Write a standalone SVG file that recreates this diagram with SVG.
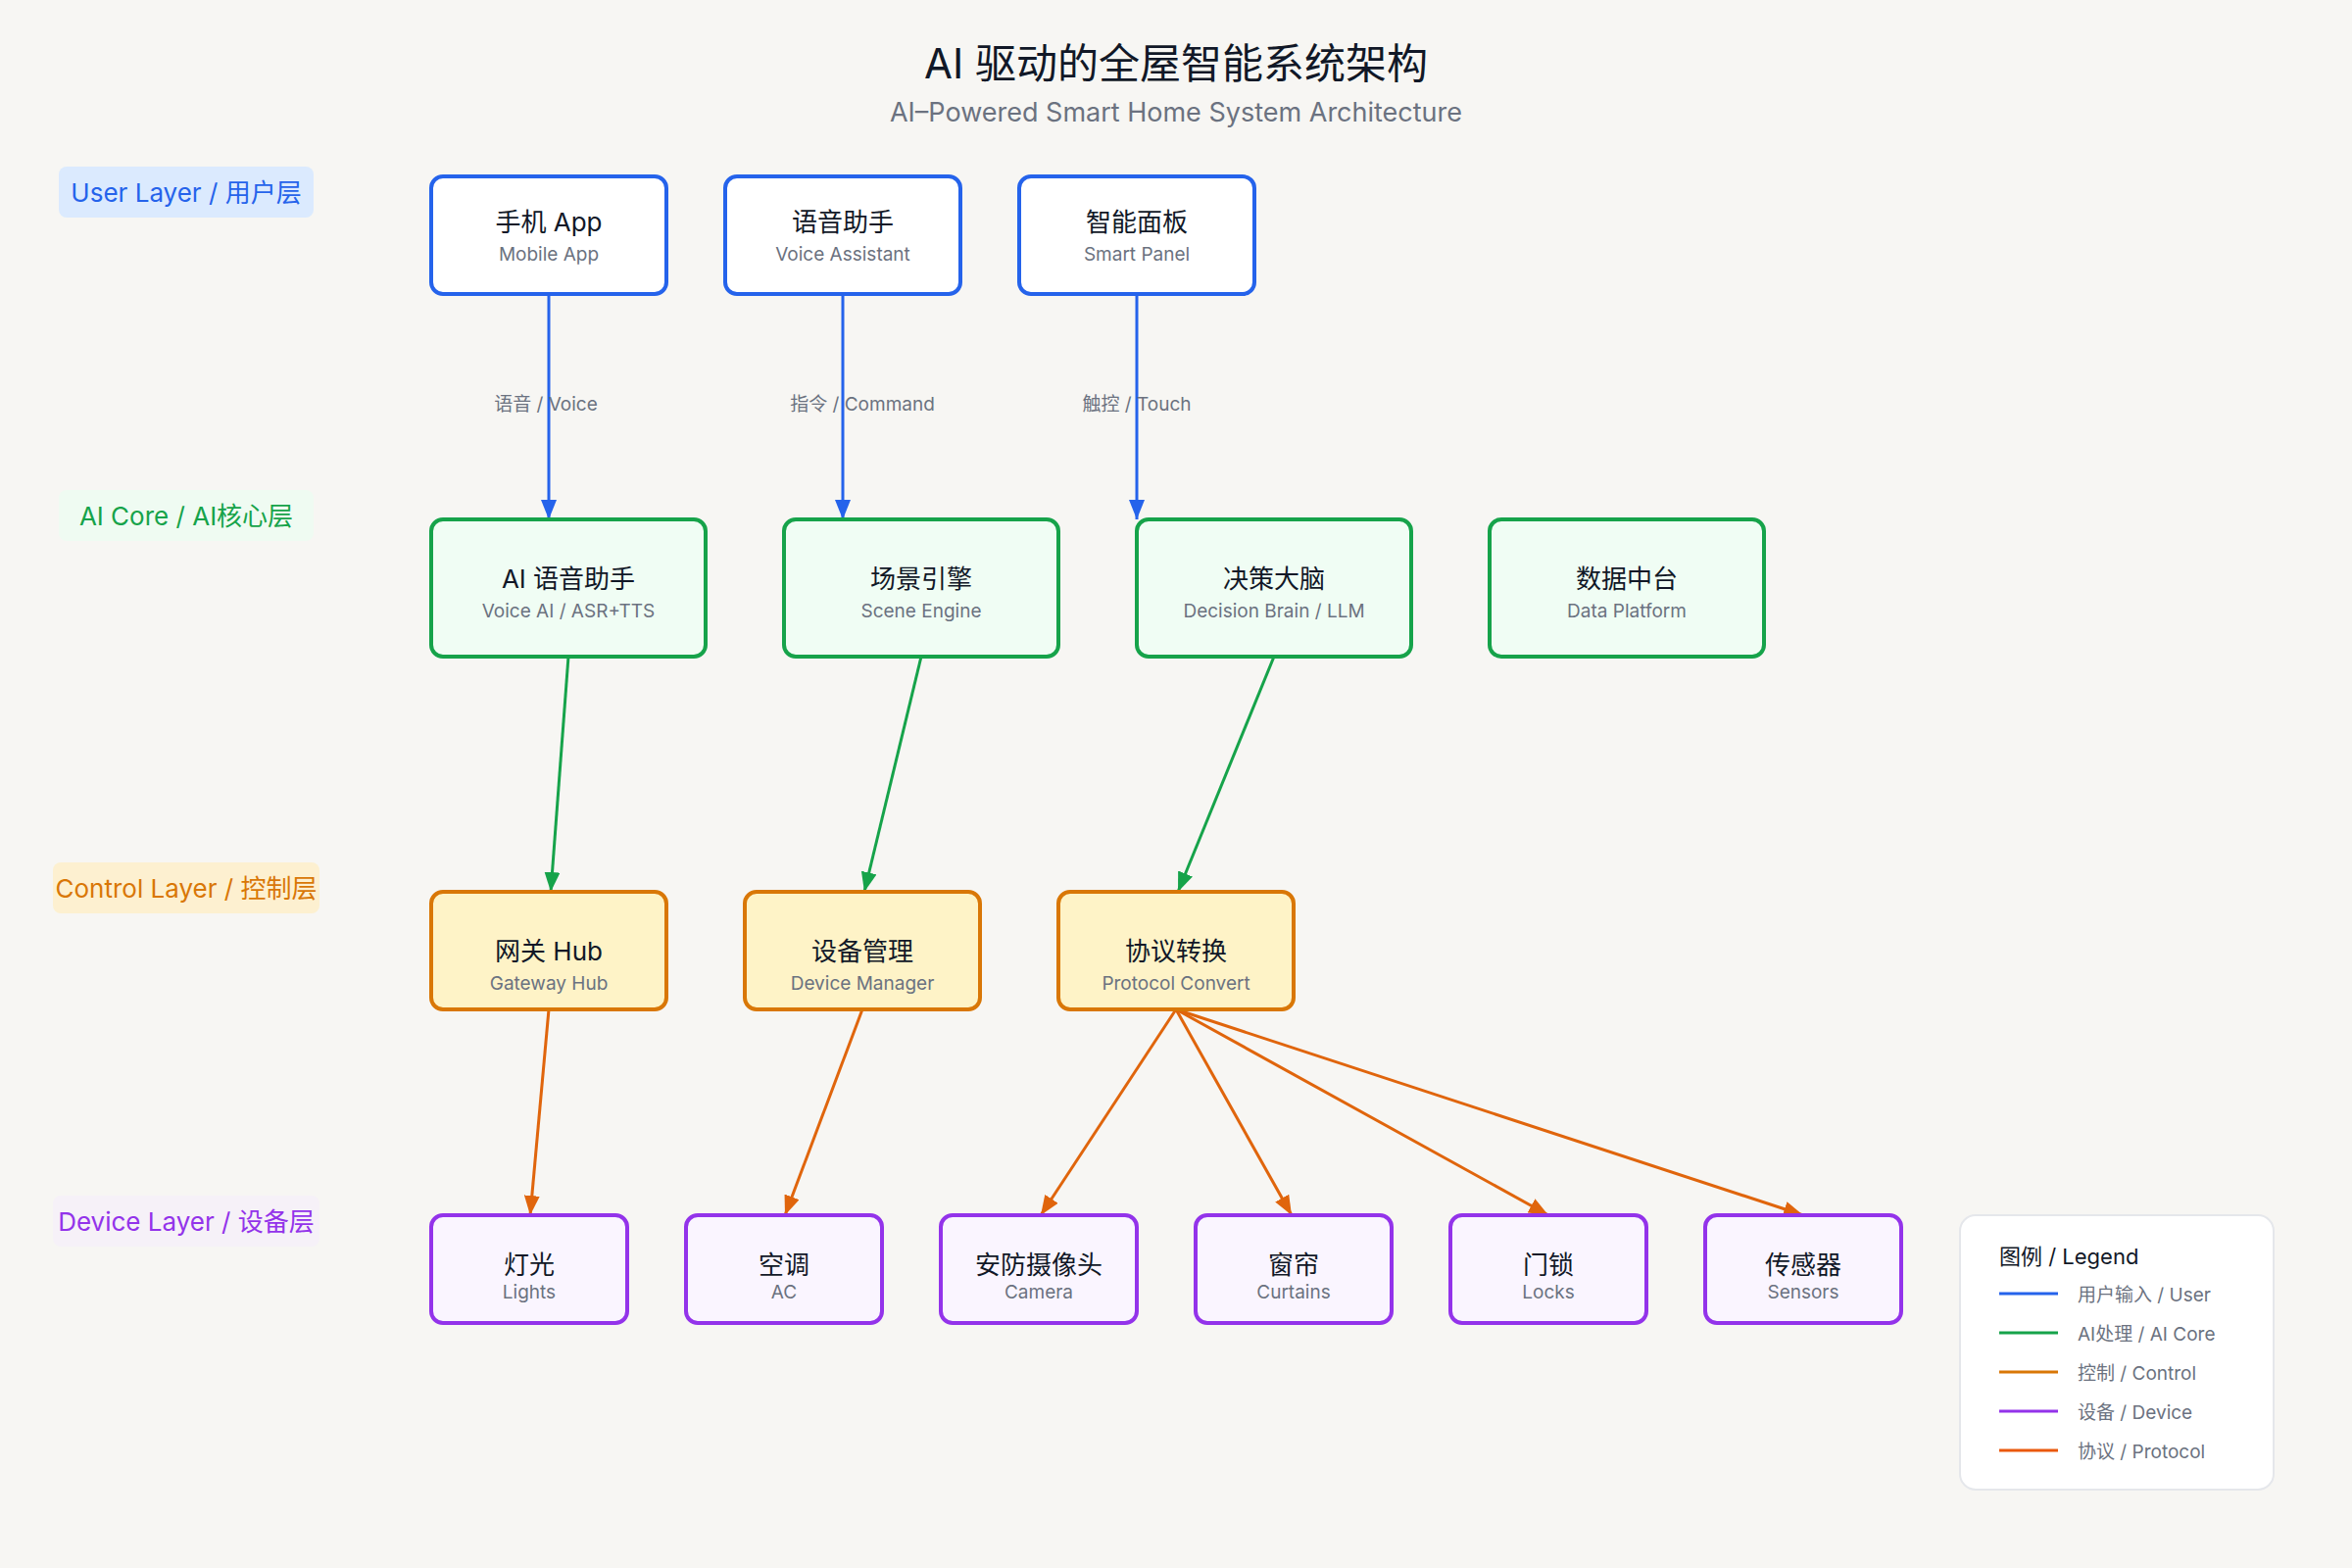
<svg xmlns="http://www.w3.org/2000/svg" width="2400" height="1600" viewBox="0 0 2400 1600">
<defs>
<style>
text{font-family:Inter,"Noto Sans CJK SC",sans-serif;text-anchor:middle;dominant-baseline:central}
.t{font-size:26px;fill:#111827}
.s{font-size:19px;fill:#6b7280}
.el{font-size:19px;fill:#6b7280}
.u{fill:#fff;stroke:#2563eb;stroke-width:4}
.a{fill:#f0fdf4;stroke:#16a34a;stroke-width:4}
.c{fill:#fef3c7;stroke:#d97706;stroke-width:4}
.d{fill:#faf5ff;stroke:#9333ea;stroke-width:4}
.eu{stroke:#2563eb;stroke-width:3;fill:none}
.ea{stroke:#16a34a;stroke-width:3;fill:none}
.ec{stroke:#e0650c;stroke-width:3;fill:none}
.lg{font-size:19px;fill:#6b7280;text-anchor:start}
</style>
<marker id="mb" viewBox="0 0 10 10" refX="10" refY="5" markerWidth="7" markerHeight="8" markerUnits="userSpaceOnUse" orient="auto" style="overflow:visible"><path d="M0,0L10,5L0,10z" fill="#2563eb" transform="scale(2)translate(-5,0)"/></marker>
<marker id="mg" viewBox="0 0 20 16" refX="20" refY="8" markerWidth="20" markerHeight="16" markerUnits="userSpaceOnUse" orient="auto"><path d="M0,0L20,8L0,16z" fill="#16a34a"/></marker>
<marker id="mo" viewBox="0 0 20 16" refX="20" refY="8" markerWidth="20" markerHeight="16" markerUnits="userSpaceOnUse" orient="auto"><path d="M0,0L20,8L0,16z" fill="#e0650c"/></marker>
<marker id="mu" viewBox="0 0 20 16" refX="20" refY="8" markerWidth="20" markerHeight="16" markerUnits="userSpaceOnUse" orient="auto"><path d="M0,0L20,8L0,16z" fill="#2563eb"/></marker>
</defs>
<rect width="2400" height="1600" fill="#f7f6f3"/>
<text x="1200" y="64" style="font-size:42px;fill:#111827">AI 驱动的全屋智能系统架构</text>
<text x="1200" y="114" style="font-size:27px;fill:#6b7280">AI–Powered Smart Home System Architecture</text>

<g id="layers">
<rect x="60" y="170" width="260" height="52" rx="8" fill="#dbeafe"/>
<text x="190" y="196" style="font-size:26px;fill:#2563eb">User Layer / 用户层</text>
<rect x="60" y="500" width="260" height="52" rx="8" fill="#effbf2"/>
<text x="190" y="526" style="font-size:26px;fill:#16a34a">AI Core / AI核心层</text>
<rect x="54" y="880" width="272" height="52" rx="8" fill="#fdf0d0"/>
<text x="190" y="906" style="font-size:26px;fill:#d97706">Control Layer / 控制层</text>
<rect x="54" y="1220" width="272" height="52" rx="8" fill="#f6f1f8"/>
<text x="190" y="1246" style="font-size:26px;fill:#9333ea">Device Layer / 设备层</text>
</g>

<g id="connectors">
<line class="eu" x1="560" y1="300" x2="560" y2="530" marker-end="url(#mu)"/>
<line class="eu" x1="860" y1="300" x2="860" y2="530" marker-end="url(#mu)"/>
<line class="eu" x1="1160" y1="300" x2="1160" y2="530" marker-end="url(#mu)"/>
<text class="el" x="557" y="412">语音 / Voice</text>
<text class="el" x="880" y="412">指令 / Command</text>
<text class="el" x="1160" y="412">触控 / Touch</text>
<line class="ea" x1="580" y1="670" x2="562" y2="910" marker-end="url(#mg)"/>
<line class="ea" x1="940" y1="670" x2="882" y2="910" marker-end="url(#mg)"/>
<line class="ea" x1="1300" y1="670" x2="1202" y2="910" marker-end="url(#mg)"/>
<line class="ec" x1="560" y1="1030" x2="541" y2="1240" marker-end="url(#mo)"/>
<line class="ec" x1="880" y1="1030" x2="801" y2="1240" marker-end="url(#mo)"/>
<line class="ec" x1="1200" y1="1030" x2="1062" y2="1240" marker-end="url(#mo)"/>
<line class="ec" x1="1200" y1="1030" x2="1318" y2="1240" marker-end="url(#mo)"/>
<line class="ec" x1="1200" y1="1030" x2="1580" y2="1240" marker-end="url(#mo)"/>
<line class="ec" x1="1200" y1="1030" x2="1840" y2="1240" marker-end="url(#mo)"/>
</g>

<g id="n-mobile"><rect class="u" x="440" y="180" width="240" height="120" rx="12"/><text class="t" x="560" y="226">手机 App</text><text class="s" x="560" y="259">Mobile App</text></g>
<g id="n-voice"><rect class="u" x="740" y="180" width="240" height="120" rx="12"/><text class="t" x="860" y="226">语音助手</text><text class="s" x="860" y="259">Voice Assistant</text></g>
<g id="n-panel"><rect class="u" x="1040" y="180" width="240" height="120" rx="12"/><text class="t" x="1160" y="226">智能面板</text><text class="s" x="1160" y="259">Smart Panel</text></g>

<g id="n-voiceai"><rect class="a" x="440" y="530" width="280" height="140" rx="12"/><text class="t" x="580" y="590">AI 语音助手</text><text class="s" x="580" y="623">Voice AI / ASR+TTS</text></g>
<g id="n-scene"><rect class="a" x="800" y="530" width="280" height="140" rx="12"/><text class="t" x="940" y="590">场景引擎</text><text class="s" x="940" y="623">Scene Engine</text></g>
<g id="n-brain"><rect class="a" x="1160" y="530" width="280" height="140" rx="12"/><text class="t" x="1300" y="590">决策大脑</text><text class="s" x="1300" y="623">Decision Brain / LLM</text></g>
<g id="n-data"><rect class="a" x="1520" y="530" width="280" height="140" rx="12"/><text class="t" x="1660" y="590">数据中台</text><text class="s" x="1660" y="623">Data Platform</text></g>

<g id="n-hub"><rect class="c" x="440" y="910" width="240" height="120" rx="12"/><text class="t" x="560" y="970">网关 Hub</text><text class="s" x="560" y="1003">Gateway Hub</text></g>
<g id="n-devmgr"><rect class="c" x="760" y="910" width="240" height="120" rx="12"/><text class="t" x="880" y="970">设备管理</text><text class="s" x="880" y="1003">Device Manager</text></g>
<g id="n-proto"><rect class="c" x="1080" y="910" width="240" height="120" rx="12"/><text class="t" x="1200" y="970">协议转换</text><text class="s" x="1200" y="1003">Protocol Convert</text></g>

<g id="n-lights"><rect class="d" x="440" y="1240" width="200" height="110" rx="12"/><text class="t" x="540" y="1290">灯光</text><text class="s" x="540" y="1318">Lights</text></g>
<g id="n-ac"><rect class="d" x="700" y="1240" width="200" height="110" rx="12"/><text class="t" x="800" y="1290">空调</text><text class="s" x="800" y="1318">AC</text></g>
<g id="n-camera"><rect class="d" x="960" y="1240" width="200" height="110" rx="12"/><text class="t" x="1060" y="1290">安防摄像头</text><text class="s" x="1060" y="1318">Camera</text></g>
<g id="n-curtains"><rect class="d" x="1220" y="1240" width="200" height="110" rx="12"/><text class="t" x="1320" y="1290">窗帘</text><text class="s" x="1320" y="1318">Curtains</text></g>
<g id="n-locks"><rect class="d" x="1480" y="1240" width="200" height="110" rx="12"/><text class="t" x="1580" y="1290">门锁</text><text class="s" x="1580" y="1318">Locks</text></g>
<g id="n-sensors"><rect class="d" x="1740" y="1240" width="200" height="110" rx="12"/><text class="t" x="1840" y="1290">传感器</text><text class="s" x="1840" y="1318">Sensors</text></g>

<g id="legend">
<rect x="2000" y="1240" width="320" height="280" rx="16" fill="#fff" stroke="#e5e7eb" stroke-width="2"/>
<text x="2040" y="1282" style="font-size:22px;fill:#111827;text-anchor:start">图例 / Legend</text>
<line x1="2040" y1="1320" x2="2100" y2="1320" stroke="#2563eb" stroke-width="3"/><text class="lg" x="2120" y="1321">用户输入 / User</text>
<line x1="2040" y1="1360" x2="2100" y2="1360" stroke="#16a34a" stroke-width="3"/><text class="lg" x="2120" y="1361">AI处理 / AI Core</text>
<line x1="2040" y1="1400" x2="2100" y2="1400" stroke="#d97706" stroke-width="3"/><text class="lg" x="2120" y="1401">控制 / Control</text>
<line x1="2040" y1="1440" x2="2100" y2="1440" stroke="#9333ea" stroke-width="3"/><text class="lg" x="2120" y="1441">设备 / Device</text>
<line x1="2040" y1="1480" x2="2100" y2="1480" stroke="#ea580c" stroke-width="3"/><text class="lg" x="2120" y="1481">协议 / Protocol</text>
</g>
</svg>
